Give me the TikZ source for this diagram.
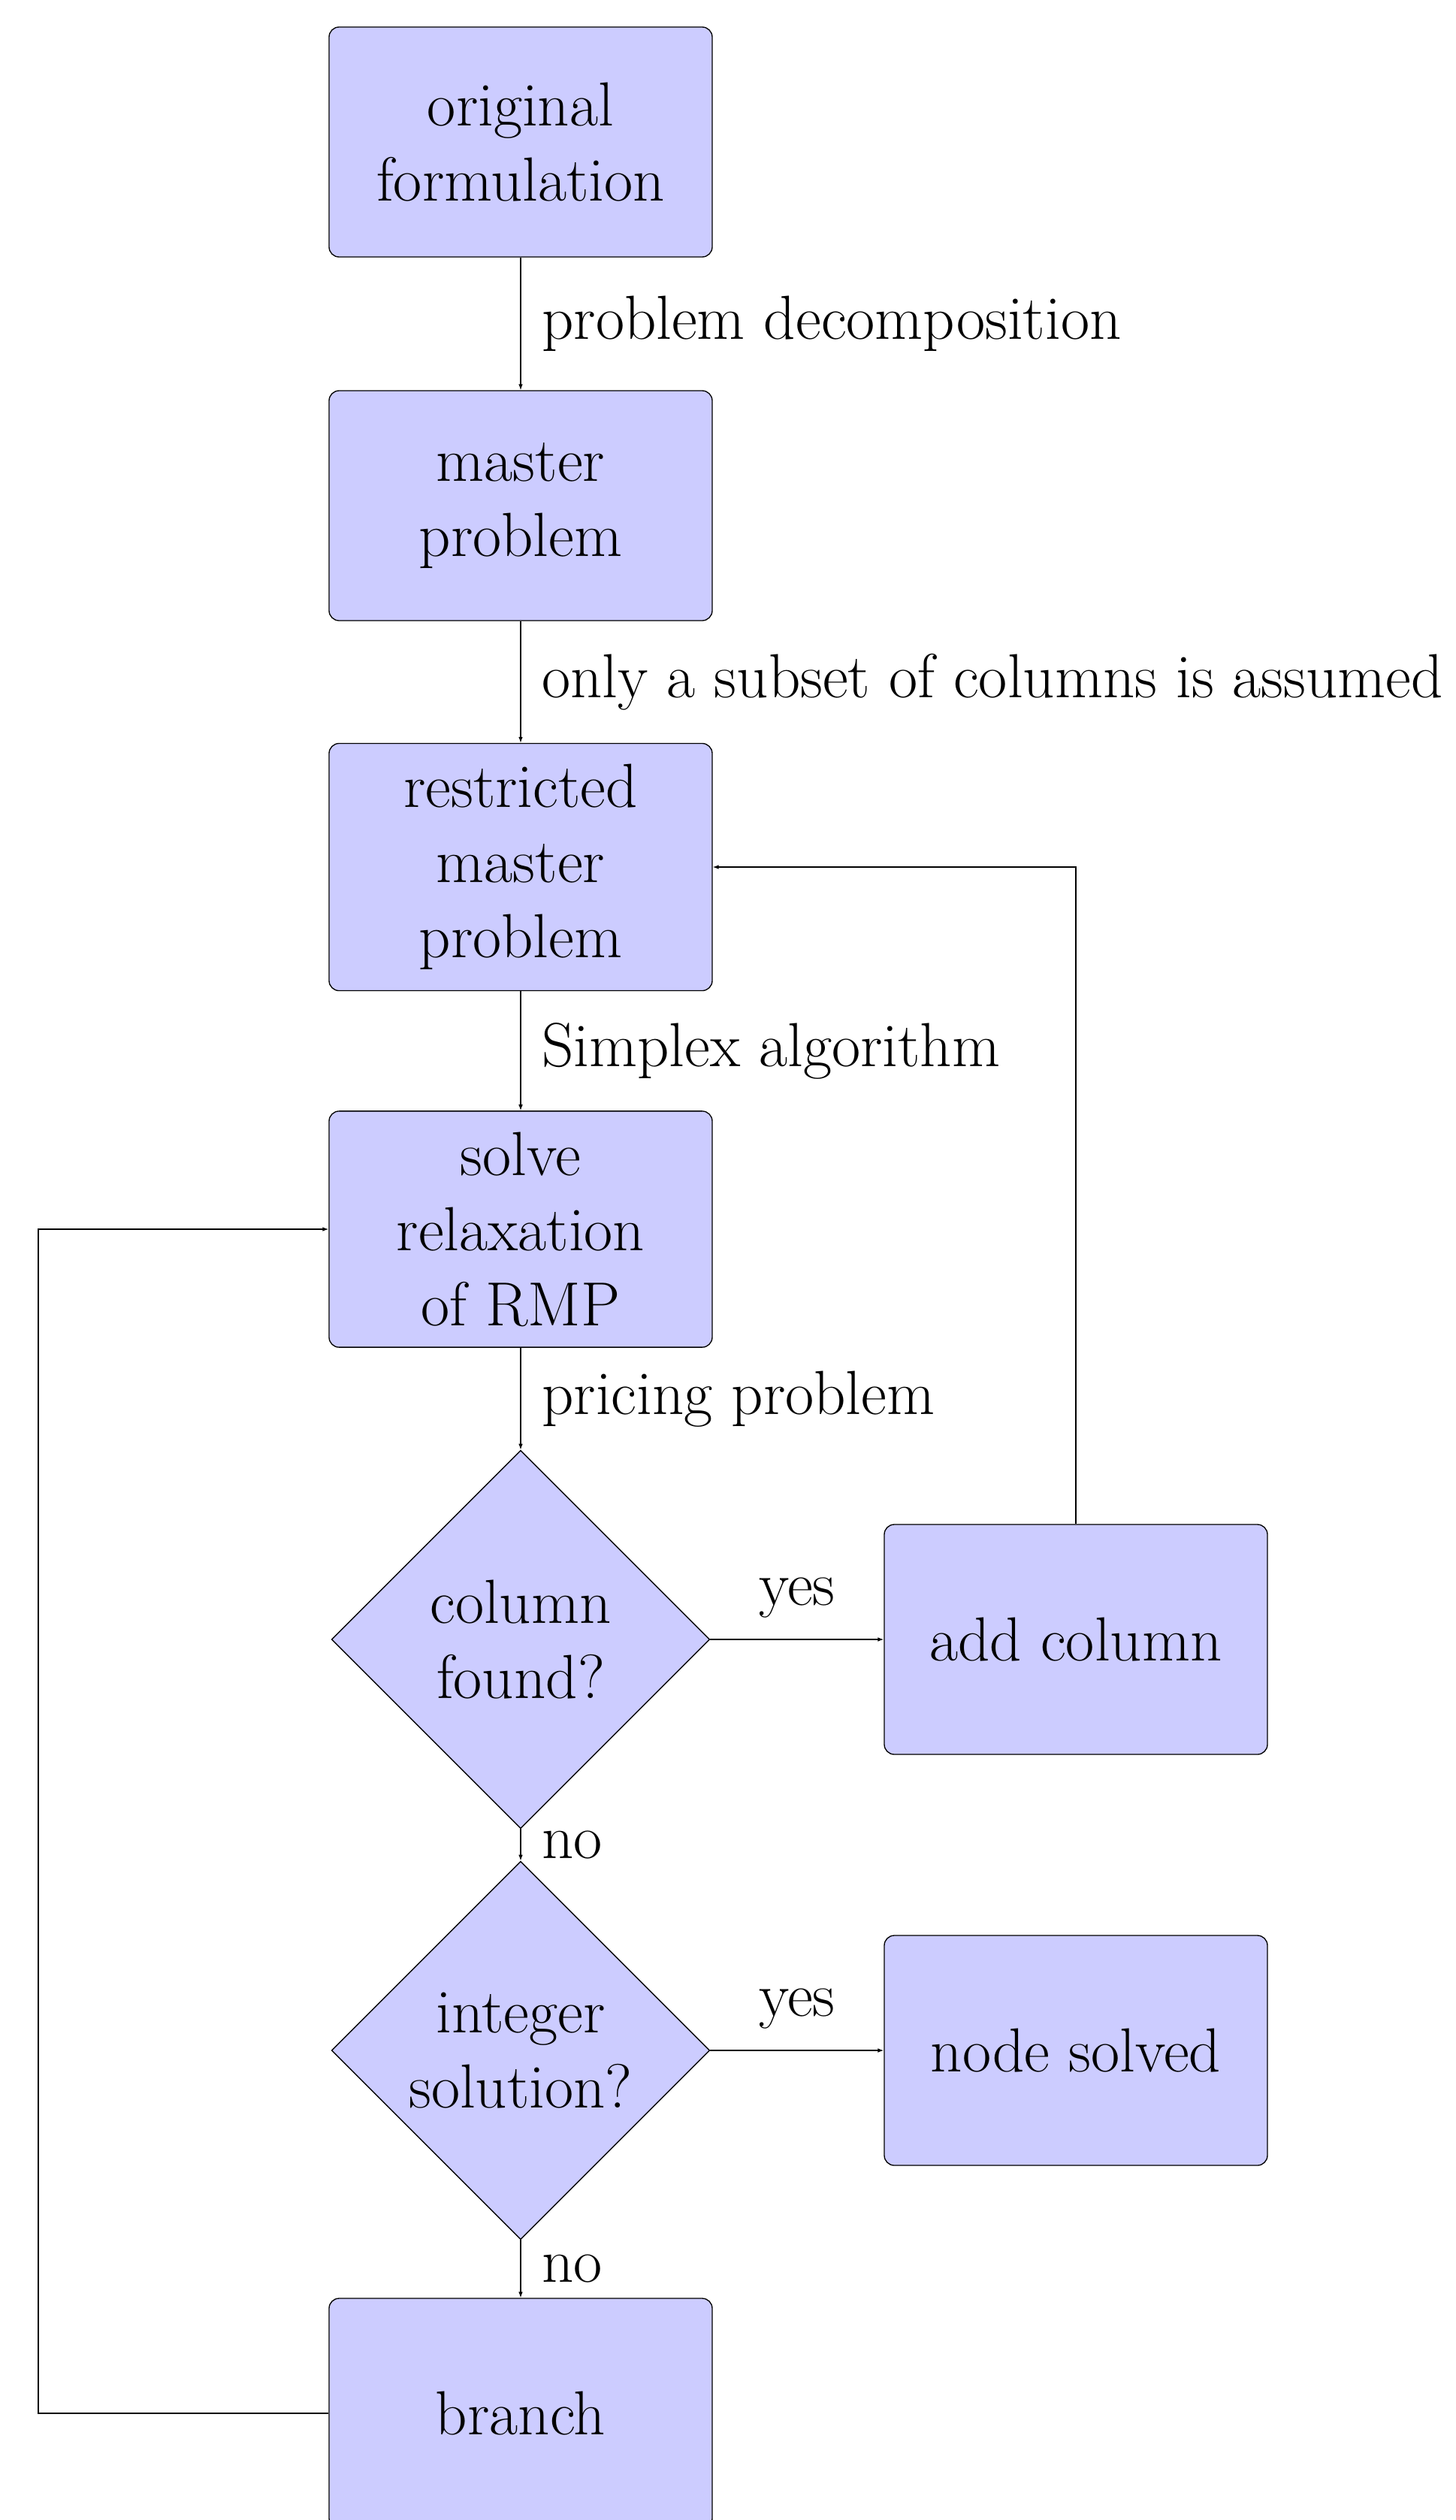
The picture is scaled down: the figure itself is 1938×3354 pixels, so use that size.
\documentclass[tikz,border=0pt]{standalone}
\usetikzlibrary{shapes.geometric,arrows.meta}
\begin{document}
\begin{tikzpicture}[x=0.3pt,y=-0.3pt,
  every node/.style={font=\Huge, inner sep=8.3pt},
  block/.style={rectangle, draw=black, fill=blue!20, rounded corners=4pt,
    minimum width=153pt, minimum height=91.8pt, align=center},
  decision/.style={diamond, aspect=1, draw=black, fill=blue!20,
    minimum width=151pt, minimum height=151pt, inner sep=0pt, align=center},
  flow/.style={draw=black, -{Latex[length=2.4pt,width=1.7pt]}}]

% page frame
\useasboundingbox (0,0) rectangle (1938,3354);

% main column
\node[block]    (orig)   at (693,189)  {original\\formulation};
\node[block]    (master) at (693,673)  {master\\problem};
\node[block]    (rmp)    at (693,1154) {restricted\\master\\problem};
\node[block]    (solve)  at (693,1636) {solve\\relaxation\\of RMP};
\node[decision] (col)    at (693,2182) {column\\found?};
\node[decision] (int)    at (693,2729) {integer\\solution?};
\node[block]    (branch) at (693,3212) {branch};

% right column
\node[block] (add)    at (1432,2182) {add column};
\node[block] (solved) at (1432,2729) {node solved};

% return path of the branching loop
\coordinate (rail) at (51,1636);

% connectors
\draw[flow] (orig)   -- node[right] {problem decomposition} (master);
\draw[flow] (master) -- node[right] {only a subset of columns is assumed} (rmp);
\draw[flow] (rmp)    -- node[right] {Simplex algorithm} (solve);
\draw[flow] (solve)  -- node[right] {pricing problem} (col);
\draw[flow] (col)    -- node[right] {no} (int);
\draw[flow] (col)    -- node[above] {yes} (add);
\draw[flow] (int)    -- node[right] {no} (branch);
\draw[flow] (int)    -- node[above] {yes} (solved);
\draw[flow] (add)    |- (rmp);
\draw[flow] (branch.west) -| (rail) -- (solve.west);
\end{tikzpicture}
\end{document}
